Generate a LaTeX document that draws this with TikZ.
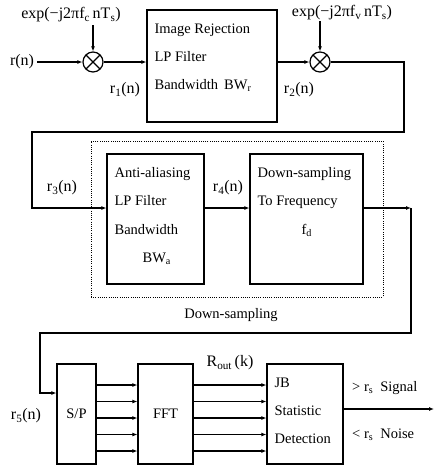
\documentclass[tikz,border=0pt]{standalone}
\usepackage{fontspec}
\setmainfont{Liberation Serif}
\usetikzlibrary{arrows.meta,positioning}

\begin{document}
\begin{tikzpicture}[x=1pt, y=-1pt, every node/.style={font=\fontsize{14.5}{28.3}\selectfont,inner sep=0pt}, sig/.style={font=\fontsize{16}{18}\selectfont}, blk/.style={draw,line width=1.2pt}, txt/.style={align=left,anchor=north west}, mixer/.style={circle,draw,line width=1.2pt,minimum size=20pt,path picture={\draw[line width=1.2pt] (path picture bounding box.north west) -- (path picture bounding box.south east) (path picture bounding box.north east) -- (path picture bounding box.south west);}}, arr/.style={-{Latex[length=5pt,width=4pt]},line width=1.2pt}]
\useasboundingbox (0,0) rectangle (435,467);
\node[blk,minimum width=130pt,minimum height=112pt] (imgrej) at (212,66) {};
\node[txt] (imgrej-t) at ([xshift=8pt,yshift=-14pt]imgrej.north west) {Image Rejection\\LP Filter\\Bandwidth\hspace{6pt}BW\textsubscript{r}};
\node[mixer] (mix1) at (93,62) {};
\node[mixer] (mix2) at (320,62) {};
\node[sig] (expc) at (71,15) {exp(−j2πf\textsubscript{c}\,nT\textsubscript{s})};
\node[sig] (expv) at (342,13) {exp(−j2πf\textsubscript{v}\,nT\textsubscript{s})};
\node[sig] (rn) at (22,62) {r(n)};
\node[sig] (r1) at (125,90) {r\textsubscript{1}(n)};
\node[sig] (r2) at (299,90) {r\textsubscript{2}(n)};
\node[draw,line width=0.9pt,dash pattern=on 1pt off 1.2pt,minimum width=292pt,minimum height=156pt] (dsframe) at (237,219) {};
\node[blk,minimum width=97pt,minimum height=130pt] (antialias) at (155.5,219) {};
\node[txt] (antialias-t) at ([xshift=8pt,yshift=-14pt]antialias.north west) {Anti-aliasing\\LP Filter\\Bandwidth\\\hspace*{28pt}BW\textsubscript{a}};
\node[blk,minimum width=113pt,minimum height=130pt] (downsamp) at (306.5,219) {};
\node[txt] (downsamp-t) at ([xshift=8pt,yshift=-14pt]downsamp.north west) {Down-sampling\\To Frequency\\\hspace*{44pt}f\textsubscript{d}};
\node[sig] (r3) at (62,188) {r\textsubscript{3}(n)};
\node[sig] (r4) at (228,188) {r\textsubscript{4}(n)};
\node (dslbl) at (231,315) {Down-sampling};
\node[blk,minimum width=39pt,minimum height=100pt] (sp) at (76.5,414) {S/P};
\node[blk,minimum width=55pt,minimum height=100pt] (fft) at (165.5,414) {FFT};
\node[blk,minimum width=76pt,minimum height=100pt] (jb) at (305,414) {};
\node[txt] (jb-t) at ([xshift=8pt,yshift=-14pt]jb.north west) {JB\\Statistic\\Detection};
\node[sig] (r5) at (26,416) {r\textsubscript{5}(n)};
\node[sig] (rout) at (230,363) {R\textsubscript{out}\,(k)};
\node[anchor=west] (sgn) at (352,388) {> r\textsubscript{s}\hspace{7pt}Signal};
\node[anchor=west] (noi) at (352,435) {< r\textsubscript{s}\hspace{7pt}Noise};
\coordinate (top1) at (93,25);
\coordinate (top2) at (320,21);
\coordinate (fb1) at (404,132);
\coordinate (fb2) at (32,208);
\coordinate (dn1) at (411,208);
\coordinate (dn2) at (40,333);
\coordinate (dn3) at (40,393);
\coordinate (jbout) at (434,409);
\draw[arr] (top1) -- (mix1);
\draw[arr] (top2) -- (mix2);
\draw[arr,shorten <=3pt] (rn) -- (mix1);
\draw[arr] (mix1) -- (imgrej.west |- mix1);
\draw[arr] (imgrej.east |- mix2) -- (mix2);
\draw[arr] (mix2) -| (fb1) -| (fb2) -- (antialias.west |- fb2);
\draw[arr] (antialias.east |- fb2) -- (downsamp.west |- fb2);
\draw[arr] (downsamp.east |- dn1) -- (dn1);
\draw[arr] (dn1) |- (dn2) -- (dn3) -- (sp.west |- dn3);
\foreach \y [count=\i] in {385,401.5,418,434.5,451} {
  \coordinate (lane\i) at (100,\y);
  \draw[arr] (sp.east |- lane\i) -- (fft.west |- lane\i);
  \draw[arr] (fft.east |- lane\i) -- (jb.west |- lane\i);
}
\draw[arr] (jb.east |- jbout) -- (jbout);
\end{tikzpicture}
\end{document}
